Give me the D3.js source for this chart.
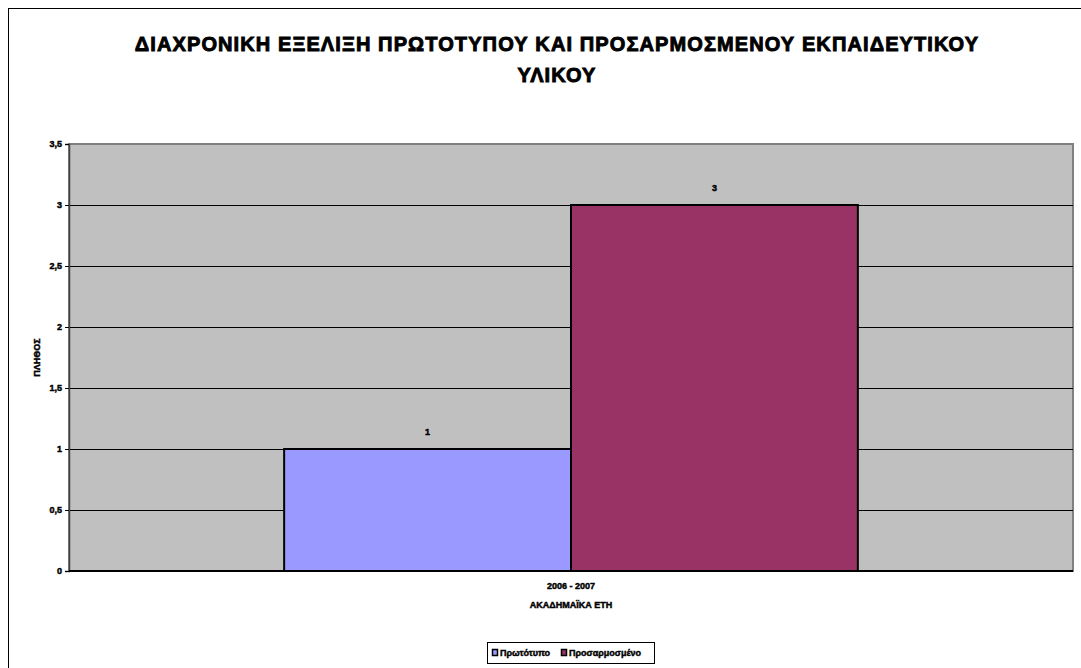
<!DOCTYPE html>
<html><head><meta charset="utf-8">
<script src="https://cdn.jsdelivr.net/npm/d3@7"></script>
<style>body{margin:0;background:#fff}svg{display:block;font-family:Arial,"Liberation Sans",sans-serif}text{font-weight:700;stroke:#000;stroke-width:0.45px;paint-order:stroke}text.title{stroke-width:0.9px;letter-spacing:1.1px}</style>
</head><body>
<script>
const categories = ["2006 - 2007"];
const seriesNames = ["Πρωτότυπο", "Προσαρμοσμένο"];
const seriesValues = [[1], [3]];
const seriesColors = ["#9999FF", "#993366"];
const yTicks = [0, 0.5, 1, 1.5, 2, 2.5, 3, 3.5];
const titleLines = ["ΔΙΑΧΡΟΝΙΚΗ ΕΞΕΛΙΞΗ ΠΡΩΤΟΤΥΠΟΥ ΚΑΙ ΠΡΟΣΑΡΜΟΣΜΕΝΟΥ ΕΚΠΑΙΔΕΥΤΙΚΟΥ", "ΥΛΙΚΟΥ"];
const xTitle = "ΑΚΑΔΗΜΑΪΚΑ ΕΤΗ";
const yTitle = "ΠΛΗΘΟΣ";

const W = 1081, H = 668;
const svg = d3.select("body").append("svg").attr("width", W).attr("height", H);

svg.append("rect").attr("x", 8.5).attr("y", 8.5).attr("width", 1100).attr("height", 700)
  .attr("fill", "#fff").attr("stroke", "#000").attr("stroke-width", 1);

const pl = 69, pr = 1073, pt = 144, pb = 571;
const y = d3.scaleLinear().domain([0, 3.5]).range([pb, pt]);
const x0 = d3.scaleBand().domain(categories).range([pl, pr]).paddingInner(0).paddingOuter(0.375);
const x1 = d3.scaleBand().domain(seriesNames).range([0, x0.bandwidth()]);

svg.append("rect").attr("x", pl).attr("y", pt).attr("width", pr - pl).attr("height", pb - pt)
  .attr("fill", "#C0C0C0").attr("stroke", "#808080").attr("stroke-width", 2);

svg.append("g").selectAll("line").data(yTicks.filter(t => t > 0 && t < 3.5)).join("line")
  .attr("x1", pl).attr("x2", pr).attr("y1", d => Math.round(y(d)) + 0.5).attr("y2", d => Math.round(y(d)) + 0.5)
  .attr("stroke", "#000").attr("stroke-width", 1);

const data = [];
categories.forEach((c, i) => seriesNames.forEach((s, j) => data.push({c, s, v: seriesValues[j][i], color: seriesColors[j]})));
svg.append("g").selectAll("rect").data(data).join("rect")
  .attr("x", d => x0(d.c) + x1(d.s)).attr("width", x1.bandwidth())
  .attr("y", d => y(d.v)).attr("height", d => y(0) - y(d.v))
  .attr("fill", d => d.color).attr("stroke", "#000").attr("stroke-width", 2);

svg.append("g").selectAll("text").data(data).join("text")
  .attr("x", d => x0(d.c) + x1(d.s) + x1.bandwidth() / 2).attr("y", d => y(d.v) - 14)
  .attr("text-anchor", "middle").attr("font-size", 9).text(d => d.v);

const yAxis = d3.axisLeft(y).tickValues(yTicks).tickSize(4).tickPadding(3)
  .tickFormat(d => String(d).replace(".", ","));
const gy = svg.append("g").attr("transform", `translate(${pl},0)`).call(yAxis);
gy.attr("font-family", null).attr("font-size", null);
gy.select(".domain").attr("stroke", "#404040").attr("stroke-width", 1.5);
gy.selectAll(".tick line").attr("stroke", "#000");
gy.selectAll(".tick text").attr("font-size", 9).attr("fill", "#000");

const xAxis = d3.axisBottom(x0).tickSize(0).tickPadding(12);
const gx = svg.append("g").attr("transform", `translate(0,${pb})`).call(xAxis);
gx.attr("font-family", null).attr("font-size", null);
gx.select(".domain").attr("stroke", "#000").attr("stroke-width", 2).attr("d", `M${pl},0H${pr}`);
gx.selectAll(".tick text").attr("font-size", 9).attr("fill", "#000");

svg.append("g").selectAll("text").data(titleLines).join("text").attr("class", "title")
  .attr("x", 557).attr("y", (d, i) => 51 + i * 31).attr("text-anchor", "middle")
  .attr("font-size", 20).text(d => d);
svg.append("text").attr("x", (pl + pr) / 2).attr("y", 608).attr("text-anchor", "middle")
  .attr("font-size", 9).text(xTitle);
svg.append("text").attr("transform", `translate(40,${(pt + pb) / 2}) rotate(-90)`).attr("text-anchor", "middle")
  .attr("font-size", 9).text(yTitle);

const lg = svg.append("g");
lg.append("rect").attr("x", 487.5).attr("y", 642.5).attr("width", 167).attr("height", 21)
  .attr("fill", "#fff").attr("stroke", "#000");
const lx = [492, 561];
seriesNames.forEach((s, i) => {
  lg.append("rect").attr("x", lx[i] + 0.5).attr("y", 649.5).attr("width", 5).attr("height", 6)
    .attr("fill", seriesColors[i]).attr("stroke", "#000").attr("stroke-width", 1.5);
  lg.append("text").attr("x", lx[i] + 8).attr("y", 656).attr("font-size", 9).text(s);
});
</script>
</body></html>
